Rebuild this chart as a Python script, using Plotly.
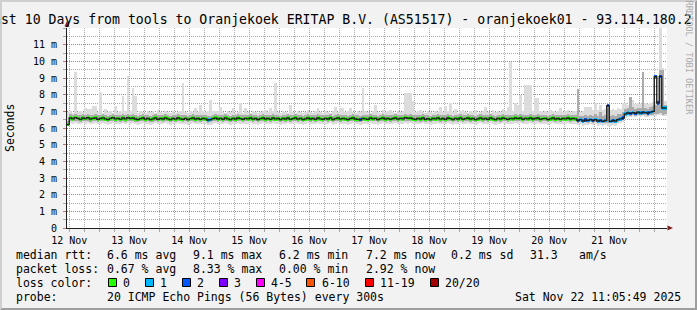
import plotly.graph_objects as go
import pandas as pd

# ---------------- data ----------------
title_text = "Last 10 Days from tools to Oranjekoek ERITAP B.V. (AS51517) - oranjekoek01 - 93.114.180.2"
y_axis_title = "Seconds"
watermark = "RRDTOOL / TOBI OETIKER"
range_start = "2025-11-12 11:05:49"
range_end = "2025-11-22 11:05:49"
first_bin = "2025-11-12 11:00:00"

day_labels = ["12 Nov", "13 Nov", "14 Nov", "15 Nov", "16 Nov",
              "17 Nov", "18 Nov", "19 Nov", "20 Nov", "21 Nov"]
y_tick_values = [0, 1, 2, 3, 4, 5, 6, 7, 8, 9, 10, 11]
y_tick_labels = ["0", "1 m", "2 m", "3 m", "4 m", "5 m", "6 m", "7 m",
                 "8 m", "9 m", "10 m", "11 m"]

# hourly medians (ms)
median_ms = [
    6.20, 6.60, 6.55, 6.62, 6.58, 6.52, 6.60, 6.56, 6.62, 6.54, 6.58, 6.60, 6.52, 6.57, 6.61, 6.55, 6.50, 6.58, 6.62, 6.55,
    6.58, 6.52, 6.60, 6.55, 6.62, 6.57, 6.60, 6.54, 6.50, 6.56, 6.60, 6.53, 6.58, 6.50, 6.55, 6.60, 6.52, 6.57, 6.54, 6.60,
    6.55, 6.50, 6.58, 6.53, 6.60, 6.55, 6.52, 6.58, 6.50, 6.56, 6.60, 6.54, 6.57, 6.52, 6.58, 6.55, 6.48, 6.50, 6.56, 6.60,
    6.54, 6.58, 6.52, 6.60, 6.55, 6.50, 6.58, 6.54, 6.60, 6.56, 6.52, 6.58, 6.55, 6.60, 6.53, 6.57, 6.50, 6.56, 6.60, 6.54,
    6.58, 6.52, 6.60, 6.55, 6.57, 6.50, 6.58, 6.54, 6.60, 6.52, 6.56, 6.60, 6.53, 6.58, 6.50, 6.55, 6.60, 6.54, 6.58, 6.52,
    6.60, 6.55, 6.52, 6.58, 6.54, 6.60, 6.50, 6.56, 6.60, 6.53, 6.58, 6.55, 6.50, 6.57, 6.60, 6.54, 6.52, 6.50, 6.58, 6.55,
    6.52, 6.60, 6.55, 6.58, 6.50, 6.56, 6.60, 6.54, 6.58, 6.52, 6.57, 6.60, 6.53, 6.58, 6.55, 6.62, 6.58, 6.60, 6.55, 6.52,
    6.58, 6.54, 6.60, 6.52, 6.56, 6.50, 6.58, 6.55, 6.60, 6.53, 6.57, 6.52, 6.60, 6.56, 6.50, 6.58, 6.54, 6.60, 6.52, 6.56,
    6.60, 6.54, 6.58, 6.50, 6.55, 6.60, 6.53, 6.57, 6.52, 6.60, 6.55, 6.50, 6.58, 6.54, 6.60, 6.56, 6.52, 6.58, 6.55, 6.60,
    6.56, 6.60, 6.52, 6.58, 6.55, 6.60, 6.54, 6.57, 6.60, 6.52, 6.56, 6.58, 6.50, 6.55, 6.60, 6.54, 6.57, 6.52, 6.58, 6.55,
    6.60, 6.54, 6.58, 6.55, 6.45, 6.50, 6.42, 6.48, 6.45, 6.50, 6.44, 6.50, 6.42, 6.46, 6.40, 6.45, 7.34, 6.40, 6.45, 6.42,
    6.50, 6.55, 6.60, 6.85, 6.90, 6.88, 6.92, 6.88, 6.95, 6.90, 6.95, 6.92, 6.90, 6.95, 7.00, 9.08, 7.50, 9.10, 7.20, 7.20,
]

# lost pings (of 20) per hour
loss_count = [
    0, 0, 0, 0, 0, 0, 0, 0, 0, 0, 0, 0, 0, 0, 0, 0, 0, 0, 0, 0,
    0, 0, 0, 0, 0, 0, 0, 0, 0, 0, 0, 0, 0, 0, 0, 0, 0, 0, 0, 0,
    0, 0, 0, 0, 0, 0, 0, 0, 0, 0, 0, 0, 0, 0, 0, 0, 1, 1, 0, 0,
    0, 0, 0, 0, 0, 0, 0, 0, 0, 0, 0, 0, 0, 0, 0, 0, 0, 0, 0, 0,
    0, 0, 0, 0, 0, 0, 0, 0, 0, 0, 0, 0, 0, 0, 0, 0, 0, 0, 0, 0,
    0, 0, 0, 0, 0, 0, 0, 0, 0, 0, 0, 0, 0, 0, 0, 0, 0, 2, 0, 0,
    0, 0, 0, 0, 0, 0, 0, 0, 0, 0, 0, 0, 0, 0, 0, 0, 0, 0, 0, 0,
    0, 0, 0, 0, 0, 0, 0, 0, 0, 0, 0, 0, 0, 0, 0, 0, 0, 0, 0, 0,
    0, 0, 0, 0, 0, 0, 0, 0, 0, 0, 0, 0, 0, 0, 0, 0, 0, 0, 0, 0,
    0, 0, 0, 0, 0, 0, 0, 0, 0, 0, 0, 0, 0, 0, 0, 0, 0, 0, 0, 0,
    0, 0, 0, 0, 2, 1, 1, 2, 1, 1, 2, 1, 1, 2, 1, 1, 2, 1, 2, 1,
    1, 1, 2, 1, 1, 2, 1, 2, 1, 1, 2, 1, 2, 1, 1, 2, 2, 2, 1, 1,
]

# smoke: lowest / highest ping per hour (ms)
smoke_min = [
    6.10, 6.28, 6.25, 6.30, 6.26, 6.22, 6.28, 6.25, 6.30, 6.24, 6.27, 6.28, 6.22, 6.26, 6.30, 6.25, 6.20, 6.27, 6.30, 6.24,
    6.27, 6.22, 6.28, 6.24, 6.30, 6.26, 6.28, 6.23, 6.20, 6.25, 6.28, 6.22, 6.27, 6.20, 6.24, 6.28, 6.22, 6.26, 6.24, 6.28,
    6.25, 6.20, 6.27, 6.22, 6.28, 6.25, 6.22, 6.27, 6.20, 6.25, 6.28, 6.24, 6.26, 6.22, 6.27, 6.25, 6.18, 6.20, 6.25, 6.28,
    6.24, 6.27, 6.22, 6.28, 6.25, 6.20, 6.27, 6.24, 6.28, 6.25, 6.22, 6.27, 6.25, 6.28, 6.23, 6.26, 6.20, 6.25, 6.28, 6.24,
    6.27, 6.22, 6.28, 6.25, 6.26, 6.20, 6.27, 6.24, 6.28, 6.22, 6.25, 6.28, 6.23, 6.27, 6.20, 6.25, 6.28, 6.24, 6.27, 6.22,
    6.28, 6.25, 6.22, 6.27, 6.24, 6.28, 6.20, 6.25, 6.28, 6.23, 6.27, 6.25, 6.20, 6.26, 6.28, 6.24, 6.22, 6.18, 6.27, 6.25,
    6.22, 6.28, 6.25, 6.27, 6.20, 6.25, 6.28, 6.24, 6.27, 6.22, 6.26, 6.28, 6.23, 6.27, 6.25, 6.30, 6.27, 6.28, 6.25, 6.22,
    6.27, 6.24, 6.28, 6.22, 6.25, 6.20, 6.27, 6.25, 6.28, 6.23, 6.26, 6.22, 6.28, 6.25, 6.20, 6.27, 6.24, 6.28, 6.22, 6.25,
    6.28, 6.24, 6.27, 6.20, 6.25, 6.28, 6.23, 6.26, 6.22, 6.28, 6.25, 6.20, 6.27, 6.24, 6.28, 6.25, 6.22, 6.27, 6.25, 6.28,
    6.25, 6.28, 6.22, 6.27, 6.25, 6.28, 6.24, 6.26, 6.28, 6.22, 6.25, 6.27, 6.20, 6.25, 6.28, 6.24, 6.26, 6.22, 6.27, 6.25,
    6.28, 6.24, 6.27, 6.25, 6.18, 6.22, 6.15, 6.20, 6.18, 6.22, 6.16, 6.22, 6.15, 6.18, 6.12, 6.18, 6.15, 6.12, 6.18, 6.15,
    6.22, 6.28, 6.35, 6.62, 6.68, 6.65, 6.70, 6.65, 6.72, 6.68, 6.70, 6.68, 6.66, 6.70, 6.72, 6.75, 6.78, 6.80, 6.72, 6.75,
]
smoke_max = [
    6.95, 7.00, 6.90, 9.36, 6.95, 7.00, 6.95, 7.22, 7.15, 7.15, 7.30, 7.30, 6.95, 8.18, 6.90, 7.15, 6.95, 7.00, 6.90, 7.35,
    6.95, 7.00, 7.94, 7.05, 9.14, 7.00, 8.42, 7.94, 6.90, 7.00, 6.95, 6.90, 7.05, 6.95, 7.00, 6.90, 7.10, 6.95, 6.90, 7.00,
    6.95, 6.90, 7.00, 6.90, 6.95, 7.00, 8.72, 6.95, 6.90, 7.05, 6.95, 7.22, 6.95, 7.40, 7.00, 6.95, 7.05, 7.66, 7.05, 7.05,
    7.05, 7.28, 6.95, 6.90, 7.00, 6.95, 7.18, 6.90, 6.95, 7.52, 6.90, 7.22, 6.95, 6.90, 7.00, 6.97, 6.90, 6.95, 7.00, 7.10,
    6.95, 7.22, 7.00, 8.70, 6.95, 6.90, 7.00, 6.95, 6.90, 7.38, 6.95, 6.90, 7.00, 6.95, 6.90, 6.95, 7.10, 6.95, 6.90, 7.00,
    7.18, 6.95, 6.90, 7.00, 6.95, 6.90, 7.00, 7.28, 6.95, 7.22, 7.22, 6.95, 7.00, 7.18, 6.95, 6.90, 7.00, 6.95, 8.42, 7.00,
    6.95, 6.90, 7.00, 7.38, 6.95, 6.90, 7.10, 6.95, 7.00, 7.10, 6.95, 6.90, 7.00, 6.95, 7.05, 8.08, 8.08, 8.08, 7.62, 6.95,
    7.00, 7.10, 6.95, 6.90, 7.00, 6.95, 6.90, 7.00, 6.95, 7.28, 6.95, 7.35, 7.00, 7.52, 6.95, 7.15, 6.90, 7.00, 7.10, 6.95,
    6.90, 7.00, 6.95, 7.10, 6.90, 6.95, 7.00, 7.28, 6.95, 6.90, 7.10, 6.95, 7.00, 6.95, 7.15, 7.00, 7.28, 9.98, 7.05, 7.50,
    7.38, 7.98, 7.05, 8.58, 8.58, 8.58, 7.00, 7.82, 7.82, 7.00, 6.95, 7.05, 6.95, 7.10, 7.00, 6.95, 7.05, 7.22, 6.95, 7.00,
    7.10, 6.95, 7.05, 7.00, 8.34, 6.95, 7.00, 7.28, 7.28, 7.28, 7.10, 7.50, 7.10, 7.40, 7.10, 7.15, 7.40, 7.10, 7.15, 7.10,
    7.22, 7.15, 7.52, 7.52, 7.40, 7.88, 7.70, 7.45, 7.50, 7.45, 9.38, 7.50, 7.45, 7.50, 7.55, 7.60, 7.70, 12.00, 9.60, 7.60,
]
# dense core of the smoke around the median (ms)
band_lo = [
    6.15, 6.42, 6.40, 6.44, 6.41, 6.38, 6.42, 6.40, 6.44, 6.39, 6.41, 6.42, 6.38, 6.40, 6.43, 6.40, 6.36, 6.41, 6.44, 6.39,
    6.41, 6.38, 6.42, 6.39, 6.44, 6.40, 6.42, 6.39, 6.36, 6.40, 6.42, 6.38, 6.41, 6.36, 6.39, 6.42, 6.38, 6.40, 6.39, 6.42,
    6.40, 6.36, 6.41, 6.38, 6.42, 6.40, 6.38, 6.41, 6.36, 6.40, 6.42, 6.39, 6.40, 6.38, 6.41, 6.40, 6.33, 6.35, 6.40, 6.42,
    6.39, 6.41, 6.38, 6.42, 6.40, 6.36, 6.41, 6.39, 6.42, 6.40, 6.38, 6.41, 6.40, 6.42, 6.38, 6.40, 6.36, 6.40, 6.42, 6.39,
    6.41, 6.38, 6.42, 6.40, 6.40, 6.36, 6.41, 6.39, 6.42, 6.38, 6.40, 6.42, 6.38, 6.41, 6.36, 6.40, 6.42, 6.39, 6.41, 6.38,
    6.42, 6.40, 6.38, 6.41, 6.39, 6.42, 6.36, 6.40, 6.42, 6.38, 6.41, 6.40, 6.36, 6.40, 6.42, 6.39, 6.38, 6.35, 6.41, 6.40,
    6.38, 6.42, 6.40, 6.41, 6.36, 6.40, 6.42, 6.39, 6.41, 6.38, 6.40, 6.42, 6.38, 6.41, 6.40, 6.44, 6.41, 6.42, 6.40, 6.38,
    6.41, 6.39, 6.42, 6.38, 6.40, 6.36, 6.41, 6.40, 6.42, 6.38, 6.40, 6.38, 6.42, 6.40, 6.36, 6.41, 6.39, 6.42, 6.38, 6.40,
    6.42, 6.39, 6.41, 6.36, 6.40, 6.42, 6.38, 6.40, 6.38, 6.42, 6.40, 6.36, 6.41, 6.39, 6.42, 6.40, 6.38, 6.41, 6.40, 6.42,
    6.40, 6.42, 6.38, 6.41, 6.40, 6.42, 6.39, 6.40, 6.42, 6.38, 6.40, 6.41, 6.36, 6.40, 6.42, 6.39, 6.40, 6.38, 6.41, 6.40,
    6.42, 6.39, 6.41, 6.40, 6.32, 6.35, 6.30, 6.34, 6.32, 6.35, 6.31, 6.35, 6.30, 6.32, 6.28, 6.32, 6.30, 6.28, 6.32, 6.30,
    6.35, 6.40, 6.46, 6.72, 6.76, 6.74, 6.78, 6.74, 6.80, 6.76, 6.78, 6.76, 6.75, 6.78, 6.80, 6.82, 6.85, 6.88, 6.80, 6.82,
]
band_hi = [
    6.45, 6.82, 6.78, 6.85, 6.80, 6.76, 6.82, 6.79, 6.86, 6.78, 6.80, 6.83, 6.76, 6.80, 6.84, 6.79, 6.74, 6.81, 6.85, 6.78,
    6.81, 6.76, 6.83, 6.78, 6.86, 6.80, 6.84, 6.78, 6.74, 6.79, 6.83, 6.76, 6.81, 6.74, 6.78, 6.83, 6.76, 6.80, 6.78, 6.83,
    6.79, 6.74, 6.81, 6.76, 6.83, 6.79, 6.76, 6.81, 6.74, 6.79, 6.83, 6.78, 6.80, 6.76, 6.81, 6.79, 6.72, 6.74, 6.79, 6.83,
    6.78, 6.81, 6.76, 6.83, 6.79, 6.74, 6.81, 6.78, 6.83, 6.79, 6.76, 6.81, 6.79, 6.83, 6.77, 6.80, 6.74, 6.79, 6.83, 6.78,
    6.81, 6.76, 6.83, 6.79, 6.80, 6.74, 6.81, 6.78, 6.83, 6.76, 6.79, 6.83, 6.77, 6.81, 6.74, 6.79, 6.83, 6.78, 6.81, 6.76,
    6.83, 6.79, 6.76, 6.81, 6.78, 6.83, 6.74, 6.79, 6.83, 6.77, 6.81, 6.79, 6.74, 6.80, 6.83, 6.78, 6.76, 6.74, 6.81, 6.79,
    6.76, 6.83, 6.79, 6.81, 6.74, 6.79, 6.83, 6.78, 6.81, 6.76, 6.80, 6.83, 6.77, 6.81, 6.79, 6.86, 6.81, 6.83, 6.79, 6.76,
    6.81, 6.78, 6.83, 6.76, 6.80, 6.74, 6.81, 6.79, 6.83, 6.77, 6.80, 6.76, 6.83, 6.80, 6.74, 6.81, 6.78, 6.83, 6.76, 6.80,
    6.83, 6.78, 6.81, 6.74, 6.79, 6.83, 6.77, 6.80, 6.76, 6.83, 6.79, 6.74, 6.81, 6.78, 6.83, 6.80, 6.76, 6.81, 6.79, 6.83,
    6.80, 6.83, 6.76, 6.81, 6.79, 6.83, 6.78, 6.80, 6.83, 6.76, 6.80, 6.81, 6.74, 6.79, 6.83, 6.78, 6.80, 6.76, 6.81, 6.79,
    6.83, 6.78, 6.81, 6.79, 8.34, 6.75, 6.70, 6.78, 6.74, 6.80, 6.72, 6.85, 6.72, 6.95, 6.70, 6.76, 7.20, 6.70, 6.78, 6.72,
    6.82, 6.86, 6.95, 7.15, 7.20, 7.88, 7.25, 7.15, 7.22, 7.18, 9.38, 7.20, 7.15, 7.25, 7.30, 7.40, 7.60, 9.50, 9.50, 7.40,
]

# legend / summary
loss_legend = [("0", "#26ff00"), ("1", "#00b8ff"), ("2", "#0059ff"), ("3", "#7e00ff"),
               ("4-5", "#ff00ff"), ("6-10", "#ff5500"), ("11-19", "#ff0000"), ("20/20", "#a10000")]
rtt_row = ["median rtt:", "6.6 ms avg", "9.1 ms max", "6.2 ms min", "7.2 ms now",
           "0.2 ms sd", "31.3", "am/s"]
loss_row = ["packet loss:", "0.67 % avg", "8.33 % max", "0.00 % min", "2.92 % now"]
probe_row = ["probe:", "20 ICMP Echo Pings (56 Bytes) every 300s"]
timestamp = "Sat Nov 22 11:05:49 2025"


def loss_color(n):
    if n <= 3:
        return loss_legend[n][1]
    if n <= 5:
        return loss_legend[4][1]
    if n <= 10:
        return loss_legend[5][1]
    if n <= 19:
        return loss_legend[6][1]
    return loss_legend[7][1]


# ---------------- geometry / style ----------------
W, H = 697, 310
ML, MR, MT, MB = 67, 30, 28, 82
PW, PH = W - ML - MR, H - MT - MB


def px(x):
    return (x - ML) / PW


def py(y):
    return (H - MB - y) / PH


MONO = "DejaVu Sans Mono"
GRID = "rgba(143,143,143,0.75)"
MGRID = "rgba(222,79,79,0.6)"
AXIS = "#1f1f1f"
ARROW = "#801f1f"
DASH = "1px,1px"
MEDIAN_BAND = 0.2

bins = pd.date_range(first_bin, periods=len(median_ms), freq="h")
mids = bins + pd.Timedelta(minutes=30)
bar_w = 3600 * 1000

fig = go.Figure()
fig.add_trace(go.Bar(x=mids, base=smoke_min, y=[b - a for a, b in zip(smoke_min, smoke_max)],
                     width=bar_w, marker=dict(color="#dcdcdc", line=dict(width=0)),
                     hoverinfo="skip"))
fig.add_trace(go.Bar(x=mids, base=band_lo, y=[b - a for a, b in zip(band_lo, band_hi)],
                     width=bar_w, marker=dict(color="#ababab", line=dict(width=0)),
                     hoverinfo="skip"))
fig.add_trace(go.Bar(x=mids, base=[m - MEDIAN_BAND / 2 for m in median_ms],
                     y=[MEDIAN_BAND] * len(median_ms), width=bar_w,
                     marker=dict(color=[loss_color(c) for c in loss_count], line=dict(width=0)),
                     hoverinfo="skip"))
step_x = list(bins) + [bins[-1] + pd.Timedelta(hours=1)]
step_y = median_ms + [median_ms[-1]]
fig.add_trace(go.Scatter(x=step_x, y=step_y, mode="lines",
                         line=dict(color="#202020", width=1.4, shape="hv"), hoverinfo="skip"))
fig.add_trace(go.Scatter(x=[], y=[], xaxis="x2", yaxis="y", hoverinfo="skip"))

noons = pd.date_range("2025-11-12 12:00", periods=len(day_labels), freq="D")
midnights = pd.date_range("2025-11-13 00:00", periods=len(day_labels), freq="D")

fig.update_layout(
    width=W, height=H, autosize=False,
    margin=dict(l=ML, r=MR, t=MT, b=MB, pad=0),
    paper_bgcolor="#f2f2f2", plot_bgcolor="#ffffff",
    barmode="overlay", bargap=0, showlegend=False,
    font=dict(family=MONO, color="#000000"),
    xaxis=dict(type="date", range=[range_start, range_end], tickmode="array",
               tickvals=noons, ticktext=day_labels, showgrid=True, gridcolor=GRID,
               griddash=DASH, gridwidth=1, ticks="outside", ticklen=3, tickcolor=GRID,
               tickfont=dict(family=MONO, size=10, color="#000000"),
               showline=True, linecolor=AXIS, linewidth=1, zeroline=False, fixedrange=True,
               minor=dict(tick0="2025-11-12 06:00", dtick=12 * 3600 * 1000, showgrid=True,
                          gridcolor=GRID, griddash=DASH, ticks="outside", ticklen=3,
                          tickcolor=GRID)),
    xaxis2=dict(type="date", range=[range_start, range_end], overlaying="x", anchor="y",
                side="bottom", tickmode="array", tickvals=midnights, showticklabels=False,
                showgrid=True, gridcolor=MGRID, griddash=DASH, ticks="outside", ticklen=3,
                tickcolor=MGRID, showline=False, zeroline=False, fixedrange=True),
    yaxis=dict(range=[0, 12], tickmode="array", tickvals=y_tick_values, ticktext=y_tick_labels,
               showgrid=True, gridcolor=MGRID, griddash=DASH, ticks="outside", ticklen=3,
               tickcolor=MGRID, tickfont=dict(family=MONO, size=10, color="#000000"),
               showline=True, linecolor=AXIS, linewidth=1, zeroline=False, fixedrange=True,
               ticklabelstandoff=4,
               minor=dict(tick0=0, dtick=0.5, showgrid=True, gridcolor=GRID, griddash=DASH,
                          ticks="outside", ticklen=3, tickcolor=GRID)),
)


def path(points):
    return "M " + " L ".join(f"{px(x):.5f},{py(y):.5f}" for x, y in points) + " Z"


shapes = [
    dict(type="path", xref="paper", yref="paper", layer="above",
         path=path([(0, 0), (0, H), (2, H - 2), (2, 2), (W - 2, 2), (W, 0)]),
         fillcolor="#cfcfcf", line=dict(width=0)),
    dict(type="path", xref="paper", yref="paper", layer="above",
         path=path([(2, H - 2), (W - 2, H - 2), (W - 2, 2), (W, 0), (W, H), (0, H)]),
         fillcolor="#9e9e9e", line=dict(width=0)),
    dict(type="path", xref="paper", yref="paper", layer="above",
         path=path([(64.5, 26.5), (69.5, 26.5), (67, 21)]), fillcolor=ARROW, line=dict(width=0)),
    dict(type="path", xref="paper", yref="paper", layer="above",
         path=path([(667.5, 225.5), (667.5, 230.5), (673, 228)]), fillcolor=ARROW,
         line=dict(width=0)),
]

# loss colour boxes
box_x = [108.5, 145.5, 182.5, 219.5, 256.5, 306.5, 365.5, 430.5]
label_x = [122.5, 160.0, 196.5, 233.5, 270.5, 322.0, 380.0, 445.0]
row_y = [254.5, 268.5, 282.5, 296.5]
for (lab, col), bx in zip(loss_legend, box_x):
    shapes.append(dict(type="rect", xref="paper", yref="paper", layer="above",
                       x0=px(bx), x1=px(bx + 8), y0=py(row_y[2] - 4), y1=py(row_y[2] + 4),
                       fillcolor=col, line=dict(color="#000000", width=1)))

annotations = []


def text(t, x, y, size=11.5, anchor="left", color="#000000", angle=0):
    annotations.append(dict(text=t, x=px(x), y=py(y), xref="paper", yref="paper",
                            xanchor=anchor, yanchor="middle", showarrow=False,
                            borderpad=0, borderwidth=0, textangle=angle,
                            font=dict(family=MONO, size=size, color=color)))


text(title_text, -15, 19.5, size=13.2)
text(y_axis_title, 10, 128, size=11.5, anchor="center", angle=-90)
text(watermark, 688.5, 58, size=8.6, anchor="center", color="#ababab", angle=90)

rtt_x = [15.5, 106.5, 192.5, 278.5, 365.5, 450.5, 529.5, 578.5]
for t, x in zip(rtt_row, rtt_x):
    text(t, x, row_y[0])
loss_x = [15.5, 106.5, 192.5, 278.5, 365.5]
for t, x in zip(loss_row, loss_x):
    text(t, x, row_y[1])
text("loss color:", 15.5, row_y[2])
for (lab, col), lx in zip(loss_legend, label_x):
    text(lab, lx, row_y[2])
text(probe_row[0], 15.5, row_y[3])
text(probe_row[1], 106.5, row_y[3])
text(timestamp, 680.5, row_y[3], anchor="right")

fig.update_layout(shapes=shapes, annotations=annotations)
fig.write_html("out.html")
